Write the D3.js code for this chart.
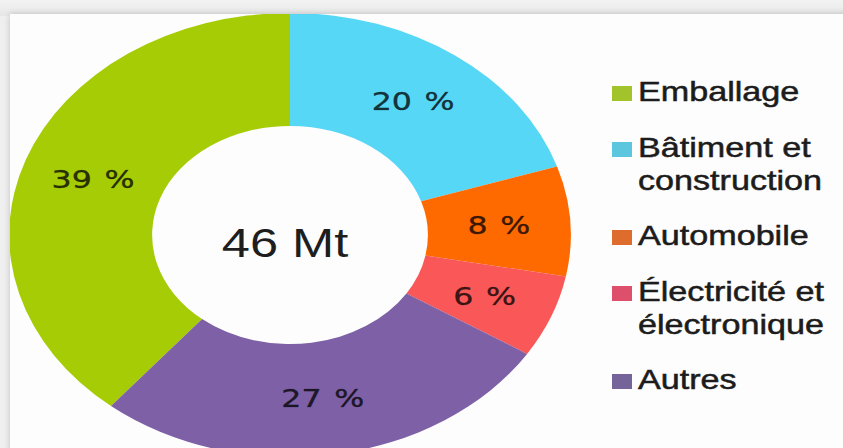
<!DOCTYPE html>
<html>
<head>
<meta charset="utf-8">
<script src="https://cdn.jsdelivr.net/npm/d3@7"></script>
<style>
  html, body { margin: 0; padding: 0; background: #ededed; }
  svg { display: block; }
</style>
</head>
<body>
<svg id="chart" width="843" height="448"></svg>
<script>
// Plastics demand by sector (share of 46 Mt)
const sectors = ["Emballage", "Bâtiment et construction", "Automobile", "Électricité et électronique", "Autres"];
const shares = [39, 20, 8, 6, 27];
const legendLines = [["Emballage"], ["Bâtiment et", "construction"], ["Automobile"], ["Électricité et", "électronique"], ["Autres"]];
const totalLabel = "46 Mt";

const sliceColors = ["#a6cc06", "#56d7f5", "#ff6a00", "#fa5858", "#7d60a6"];
const keyColors = ["#a2c42a", "#5cc6df", "#de6c2c", "#dd4f6a", "#74649a"];

const W = 843, H = 448;
const svg = d3.select("#chart");

// page frame: grey margin on top and left, white panel
const defs = svg.append("defs");
const sh = defs.append("filter").attr("id", "panelShadow")
  .attr("x", "-5%").attr("y", "-5%").attr("width", "110%").attr("height", "110%");
sh.append("feGaussianBlur").attr("in", "SourceAlpha").attr("stdDeviation", 3).attr("result", "b");
sh.append("feComponentTransfer").attr("in", "b").attr("result", "o")
  .append("feFuncA").attr("type", "linear").attr("slope", 0.2);
const m = sh.append("feMerge");
m.append("feMergeNode").attr("in", "o");
m.append("feMergeNode").attr("in", "SourceGraphic");

const bg = defs.append("linearGradient").attr("id", "topBand").attr("x1", 0).attr("y1", 0).attr("x2", 0).attr("y2", 1);
bg.append("stop").attr("offset", 0).attr("stop-color", "#f3f3f3");
bg.append("stop").attr("offset", 1).attr("stop-color", "#e7e7e7");

svg.append("rect").attr("width", W).attr("height", H).attr("fill", "#efefef");
svg.append("rect").attr("width", W).attr("height", 16).attr("fill", "url(#topBand)");
const panel = { x: 10, y: 14 };
svg.append("rect")
  .attr("x", panel.x).attr("y", panel.y)
  .attr("width", W - panel.x + 10).attr("height", H - panel.y + 10)
  .attr("fill", "#fdfdfd")
  .attr("filter", "url(#panelShadow)");

defs.append("clipPath").attr("id", "panelClip")
  .append("rect").attr("x", panel.x).attr("y", panel.y)
  .attr("width", W - panel.x).attr("height", H - panel.y);

// donut, drawn as a circle then stretched horizontally
const cx = 290, cy = 235;
const stretch = 1.265;
const rOuter = 222, rInner = 109;

const pie = d3.pie().sort(null).value(d => d)
  .startAngle(-2 * Math.PI * shares[0] / 100)
  .endAngle(2 * Math.PI - 2 * Math.PI * shares[0] / 100);
const arcs = pie(shares);
const arc = d3.arc().innerRadius(rInner).outerRadius(rOuter);

const donut = svg.append("g").attr("clip-path", "url(#panelClip)")
  .append("g").attr("transform", `translate(${cx},${cy}) scale(${stretch},1)`);

donut.selectAll("path.slice")
  .data(arcs)
  .join("path")
  .attr("class", "slice")
  .attr("d", arc)
  .attr("fill", (d, i) => sliceColors[i]);

// percentage labels at slice centroids
const labelLayer = svg.append("g");
labelLayer.selectAll("text.pct")
  .data(arcs)
  .join("text")
  .attr("class", "pct")
  .attr("transform", d => {
    const [x, y] = arc.centroid(d);
    return `translate(${cx + x * stretch},${cy + y + 9}) scale(${stretch},1)`;
  })
  .attr("text-anchor", "middle")
  .attr("font-family", "'DejaVu Sans', Verdana, sans-serif")
  .attr("font-size", 25)
  .attr("word-spacing", 2)
  .attr("fill", "#000")
  .attr("fill-opacity", 0.75)
  .attr("stroke", "#000")
  .attr("stroke-opacity", 0.45)
  .attr("stroke-width", 0.6)
  .text(d => `${d.data} %`);

// total in the hole
svg.append("text")
  .attr("transform", `translate(${cx - 5},${cy + 22}) scale(${stretch},1)`)
  .attr("text-anchor", "middle")
  .attr("font-family", "'Liberation Sans', Arial, sans-serif")
  .attr("font-size", 40)
  .attr("fill", "#1e1e1e")
  .text(totalLabel);

// legend
const legend = svg.append("g");
let baseY = 101;
sectors.forEach((name, i) => {
  const g = legend.append("g");
  g.append("rect")
    .attr("x", 612).attr("y", baseY - 15)
    .attr("width", 20).attr("height", 15)
    .attr("fill", keyColors[i]);
  legendLines[i].forEach((line, j) => {
    g.append("text")
      .attr("transform", `translate(638,${baseY + j * 33}) scale(${stretch},1)`)
      .attr("font-family", "'Liberation Sans', Arial, sans-serif")
      .attr("font-size", 27)
      .attr("fill", "#1c1c1c")
      .attr("stroke", "#1c1c1c")
      .attr("stroke-width", 0.5)
      .text(line);
  });
  baseY += 56 + 32 * (legendLines[i].length - 1);
});
</script>
</body>
</html>
